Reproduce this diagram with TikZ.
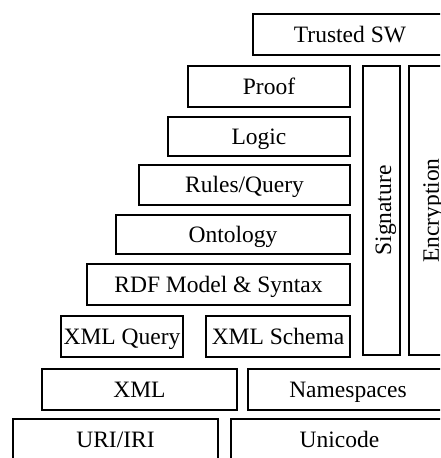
\documentclass[tikz,border=0pt]{standalone}
\usepackage{fontspec}
\setmainfont{Liberation Serif}
\begin{document}
\begin{tikzpicture}[x=1pt,y=-1pt,
  layer/.style={draw=black, line width=1.6pt, inner sep=0pt, outer sep=0pt,
    font=\fontsize{23.5}{26}\selectfont, text height=15.5pt, text depth=0pt,
    align=center, anchor=center},
  vlayer/.style={layer, rotate=90}]
\useasboundingbox (0,0) rectangle (440,458);
\clip (0,0) rectangle (440,458);
\node[layer, minimum width=194pt, minimum height=41pt] (trusted) at (350,34.5) {Trusted SW};
\node[layer, minimum width=162pt, minimum height=41pt] (proof) at (269,86.5) {Proof};
\node[layer, minimum width=182pt, minimum height=39pt] (logic) at (259,136.5) {Logic};
\node[layer, minimum width=211pt, minimum height=40pt] (rules) at (244.5,185) {Rules/Query};
\node[layer, minimum width=234pt, minimum height=39pt] (onto) at (233,234.5) {Ontology};
\node[layer, minimum width=263pt, minimum height=41pt] (rdf) at (218.5,284.5) {RDF Model \& Syntax};
\node[layer, minimum width=122pt, minimum height=41pt] (xmlq) at (122,336.5) {XML Query};
\node[layer, minimum width=144pt, minimum height=41pt] (xmls) at (278,336.5) {XML Schema};
\node[vlayer, text height=19pt, minimum width=289pt, minimum height=37pt] (sig) at (381.5,210.5) {Signature};
\node[vlayer, minimum width=289pt, minimum height=44pt] (enc) at (431,210.5) {Encryption};
\node[layer, minimum width=195pt, minimum height=41pt] (xml) at (139.5,389.5) {XML};
\node[layer, minimum width=200pt, minimum height=41pt] (ns) at (348,389.5) {Namespaces};
\node[layer, minimum width=205pt, minimum height=41pt] (uri) at (115.5,439.5) {URI/IRI};
\node[layer, minimum width=217pt, minimum height=41pt] (uni) at (339.5,439.5) {Unicode};
\end{tikzpicture}
\end{document}
